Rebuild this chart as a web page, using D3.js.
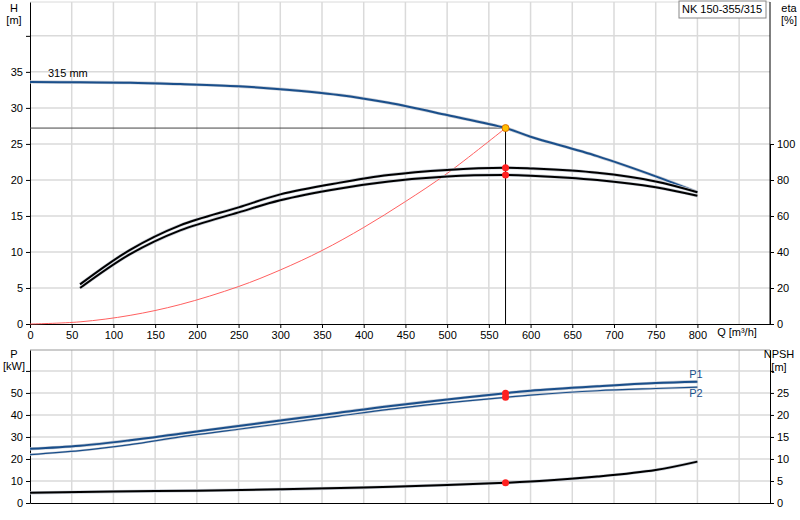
<!DOCTYPE html><html><head><meta charset="utf-8"><script src="https://cdn.jsdelivr.net/npm/d3@7"></script>
<style>body{margin:0;background:#fff}text{font-family:Arial,"Liberation Sans",sans-serif;font-size:11px;fill:#000}</style></head><body>
<svg id="c" width="800" height="520"></svg>
<script>
const qH=[0,60,120,180,250,300,370,430,500,570,600,680,750,800];
const head=[33.6,33.55,33.5,33.3,33.0,32.6,31.8,30.7,29.0,27.2,26.0,23.3,20.5,18.3];
const qE=[60,120,180,250,300,370,430,500,570,600,680,750,800];
const etaUpper=[22,41.2,54.8,64.8,72,78.4,82.8,85.6,86.8,86.4,84,79.2,73.2];
const etaLower=[20,38.8,52,62,68.8,75.2,79.2,82,82.8,82.4,80,76,71.2];
const qS=[0,60,120,180,250,300,350,400,450,500,570];
const sysH=[0,0.3,1.2,2.7,5.2,7.5,10.2,13.4,17.0,20.9,27.2];
const qP=[0,60,120,180,250,300,370,430,500,570,600,680,750,800];
const p1=[24.6,26,28.5,31.5,35,37.5,41,44,47,49.9,51,53,54.5,55.1];
const p2=[22,23.8,26.5,30,33.5,36,39.5,42.5,45.5,48,49,51,52,52.6];
const qN=[0,100,200,300,400,500,570,620,680,750,800];
const npsh=[2.3,2.6,2.8,3.1,3.5,4.1,4.6,5.1,6.0,7.5,9.4];
const dutyQ=570, dutyH=27.2, dutyEta=[86.8,82.8], dutyP=[49.9,48], dutyN=4.6;
const hTicks=[0,5,10,15,20,25,30,35], etaTicks=[0,20,40,60,80,100];
const qTicks=[0,50,100,150,200,250,300,350,400,450,500,550,600,650,700,750,800];
const pTicks=[0,10,20,30,40,50], nTicks=[0,5,10,15,20,25];

const svg=d3.select("#c");
const L=30,R=770;
const x=d3.scaleLinear().domain([0,887]).range([L,R]);
const yH=d3.scaleLinear().domain([0,44.7]).range([324,2]);
const yE=d3.scaleLinear().domain([0,100]).range([324,144]);
const yP=d3.scaleLinear().domain([0,69.5]).range([503,350]);
const yN=d3.scaleLinear().domain([0,34.75]).range([503,350]);
const grid="#dadada",blue="#1a4f8b";

function grids(y,vals,top,bot){
  svg.append("g").selectAll("line").data(d3.range(50,887,50)).join("line")
   .attr("x1",d=>x(d)).attr("x2",d=>x(d)).attr("y1",top).attr("y2",bot).attr("stroke",grid).attr("stroke-width",1.5);
  svg.append("g").selectAll("line").data(vals).join("line")
   .attr("x1",L).attr("x2",R).attr("y1",d=>y(d)).attr("y2",d=>y(d)).attr("stroke",grid).attr("stroke-width",1.5);
}
grids(yH,[5,10,15,20,25,30,35,40],2,324);
grids(yP,[10,20,30,40,50,60],350,503);
svg.append("line").attr("x1",L).attr("x2",R).attr("y1",350).attr("y2",350).attr("stroke","#999");
svg.append("line").attr("x1",L).attr("x2",R).attr("y1",2).attr("y2",2).attr("stroke",grid);

const ax=(g,t)=>svg.append("g").attr("transform",t).call(g).call(s=>{s.select(".domain").attr("stroke","#000");s.selectAll("text").style("font-size","11px");});
ax(d3.axisLeft(yH).tickValues(hTicks.concat([40])).tickFormat(d=>d==40?"":d).tickSize(4).tickSizeOuter(0),`translate(${L},0)`);
ax(d3.axisRight(yE).tickValues(etaTicks).tickSize(4).tickSizeOuter(0),`translate(${R},0)`);
svg.append("line").attr("x1",R).attr("x2",R).attr("y1",2).attr("y2",324).attr("stroke","#000");
ax(d3.axisBottom(x).tickValues(qTicks).tickSize(4).tickSizeOuter(0),`translate(0,324)`);
ax(d3.axisLeft(yP).tickValues(pTicks.concat([60])).tickFormat(d=>d==60?"":d).tickSize(4).tickSizeOuter(0),`translate(${L},0)`);
ax(d3.axisRight(yN).tickValues(nTicks.concat([30])).tickFormat(d=>d==30?"":d).tickSize(4).tickSizeOuter(0),`translate(${R},0)`);
ax(d3.axisBottom(x).tickValues([]).tickSizeOuter(0),`translate(0,503)`);

const t=(s,X,Y,a,c)=>svg.append("text").text(s).attr("x",X).attr("y",Y).attr("text-anchor",a||"middle").style("fill",c||"#000");
t("H",14,12);t("[m]",14,24);t("eta",789,12);t("[%]",789,24);
t("P",14,358);t("[kW]",14,370);t("NPSH",779,358);t("[m]",779,371);
t("Q [m³/h]",737,336);t("315 mm",48,77,"start");
t("P1",696,378,"middle",blue);t("P2",696,397,"middle",blue);
svg.append("rect").attr("x",679).attr("y",1).attr("width",87).attr("height",17).attr("fill","#fff").attr("stroke","#888");
t("NK 150-355/315",722,13);

function curve(xs,ys,ysc,col,w){
  const ln=d3.line().x((d,i)=>x(xs[i])).y(d=>ysc(d)).curve(d3.curveCatmullRom);
  svg.append("path").attr("d",ln(ys)).attr("fill","none").attr("stroke","#c8cdd6").attr("stroke-width",w+1.2);
  svg.append("path").attr("d",ln(ys)).attr("fill","none").attr("stroke",col).attr("stroke-width",w);
}
svg.append("line").attr("x1",L).attr("x2",x(dutyQ)).attr("y1",yH(dutyH)).attr("y2",yH(dutyH)).attr("stroke","#444");
svg.append("line").attr("x1",x(dutyQ)).attr("x2",x(dutyQ)).attr("y1",yH(dutyH)).attr("y2",324).attr("stroke","#000");
svg.append("path").attr("d",d3.line().x((d,i)=>x(qS[i])).y(d=>yH(d)).curve(d3.curveCatmullRom)(sysH)).attr("fill","none").attr("stroke","#ff6060").attr("stroke-width",1);
curve(qH,head,yH,blue,2);
curve(qE,etaUpper,yE,"#000",2);
curve(qE,etaLower,yE,"#000",2);
curve(qP,p1,yP,blue,2);
curve(qP,p2,yP,blue,1.2);
curve(qN,npsh,yN,"#000",2);
const dot=(cx,cy,f)=>svg.append("circle").attr("cx",cx).attr("cy",cy).attr("r",3.5).attr("fill",f).attr("stroke",f=="#ffc000"?"#e07000":"none");
dutyEta.forEach(e=>dot(x(dutyQ),yE(e),"#ff2020"));
dutyP.forEach(p=>dot(x(dutyQ),yP(p),"#ff2020"));
dot(x(dutyQ),yN(dutyN),"#ff2020");
dot(x(dutyQ),yH(dutyH),"#ffc000");
</script></body></html>
